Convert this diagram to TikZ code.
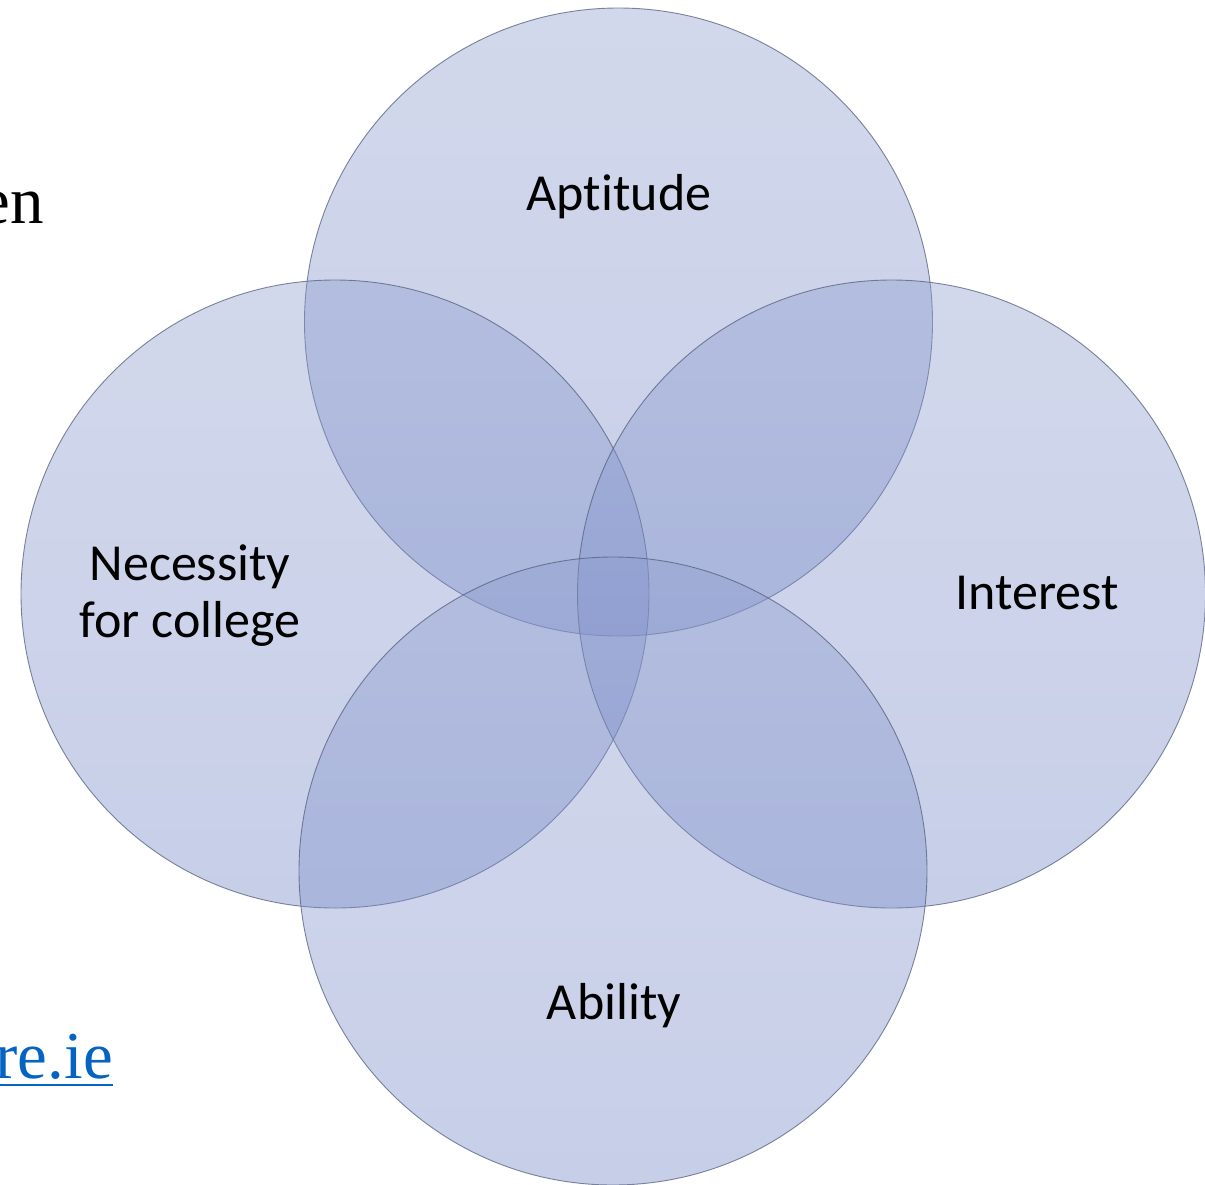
\documentclass[tikz,border=0pt]{standalone}
\usepackage{fontspec}
\setmainfont{Carlito}[Ligatures={NoCommon}]
\newfontfamily\slideserif{Liberation Serif}
\definecolor{ctop}{RGB}{140,156,206}
\definecolor{cbot}{RGB}{112,132,198}
\definecolor{cedge}{RGB}{85,95,125}
\definecolor{linkblue}{RGB}{5,99,193}
\tikzset{
  venn/.style={circle, minimum size=628pt, inner sep=0pt, shade, top color=ctop, bottom color=cbot,
    fill opacity=0.39, draw=cedge, draw opacity=0.75, line width=0.9pt},
  lbl/.style={font=\fontsize{52}{57}\selectfont, text=black, align=center, anchor=base, inner sep=0pt},
  sliderest/.style={font=\slideserif\fontsize{67}{70}\selectfont, anchor=base east, inner sep=0pt}
}
\begin{document}
\begin{tikzpicture}[x=1pt,y=-1pt]
\useasboundingbox (0,0) rectangle (1205,1184);
\fill[white] (0,0) rectangle (1205,1184);
\node[sliderest] (en) at (44,223) {en};
\node[sliderest, text=linkblue] (link) at (113,1078) {re.ie};
\coordinate (ulL) at (0,1085);
\coordinate (ulR) at (113,1085);
\draw[linkblue, line width=2.6pt] (ulL) -- (ulR);
\node[venn] (apt) at (618.5,322) {};
\node[venn] (nec) at (335,594) {};
\node[venn] (int) at (891.5,594) {};
\node[venn] (abi) at (613,871) {};
\node[lbl] (tapt) at (619,210) {Aptitude};
\node[lbl] (tint) at (1037,609) {Interest};
\node[lbl] (tabi) at (614,1019) {Ability};
\node[lbl, anchor=base] (tnec) at (190,637) {Necessity\\for college};
\end{tikzpicture}
\end{document}
